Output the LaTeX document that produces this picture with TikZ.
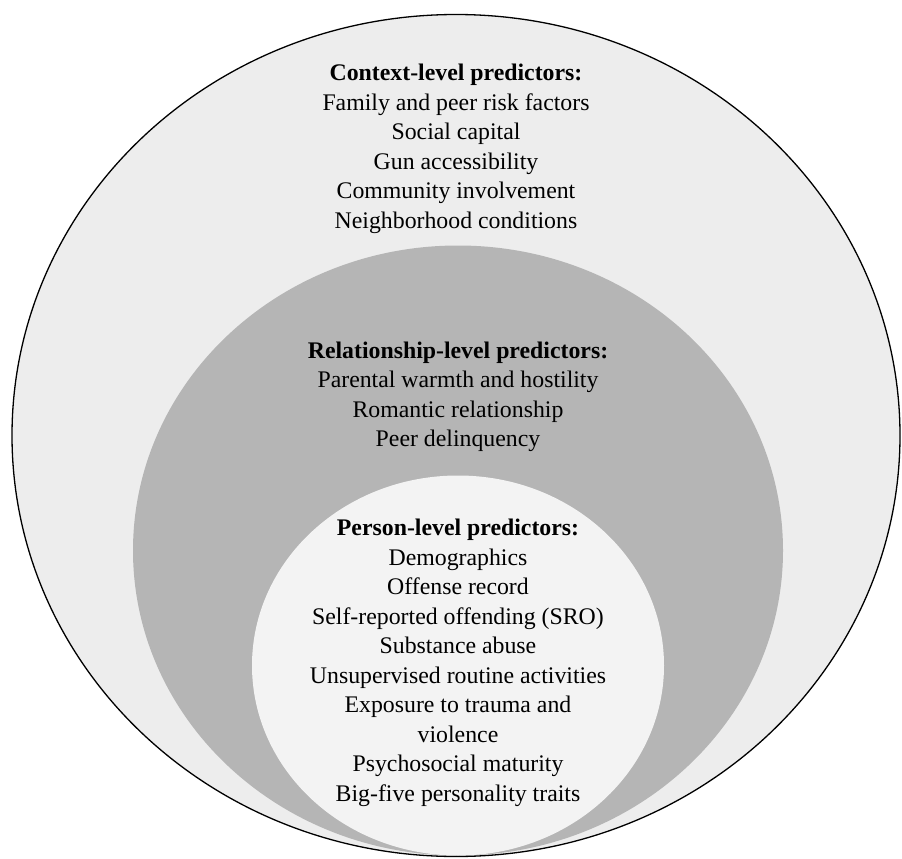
\documentclass[tikz,border=0pt]{standalone}
\usepackage{fontspec}
\setmainfont{Liberation Serif}
\definecolor{outerfill}{HTML}{EDEDED}
\definecolor{midfill}{HTML}{B5B5B5}
\definecolor{innerfill}{HTML}{F3F3F3}
\begin{document}
\begin{tikzpicture}[x=1pt,y=-1pt,
  blocktext/.style={align=center,inner sep=0pt,font=\fontsize{23.8}{29.5}\selectfont,text=black}]
\useasboundingbox (0,0) rectangle (902,859);
\fill[outerfill] (456,435.5) ellipse [x radius=444pt, y radius=421pt];
\fill[midfill] (458,550.5) ellipse [x radius=325pt, y radius=305pt];
\fill[innerfill] (458,665.5) ellipse [x radius=206pt, y radius=190pt];
\draw[black,line width=1.3pt] (456,435.5) ellipse [x radius=444pt, y radius=421pt];
\node[blocktext] (context) at (456,149) {\textbf{Context-level predictors:}\\Family and peer risk factors\\Social capital\\Gun accessibility\\Community involvement\\Neighborhood conditions};
\node[blocktext] (relation) at (458,397) {\textbf{Relationship-level predictors:}\\Parental warmth and hostility\\Romantic relationship\\Peer delinquency};
\node[blocktext] (person) at (458,663) {\textbf{Person-level predictors:}\\Demographics\\Offense record\\Self-reported offending (SRO)\\Substance abuse\\Unsupervised routine activities\\Exposure to trauma and\\violence\\Psychosocial maturity\\Big-five personality traits};
\end{tikzpicture}
\end{document}
